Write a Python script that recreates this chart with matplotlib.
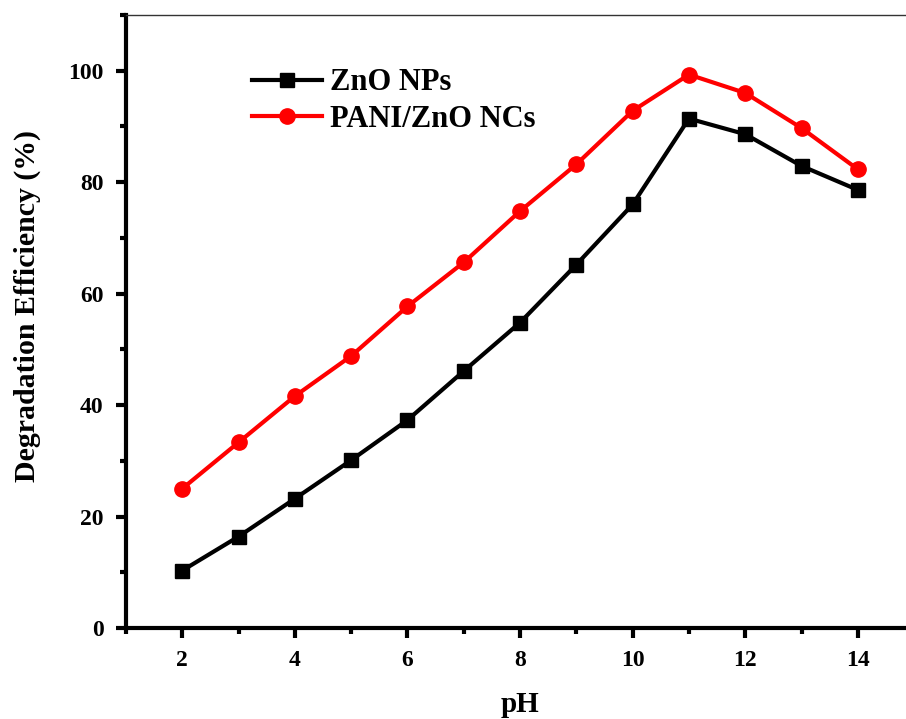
import matplotlib
matplotlib.use("Agg")
import matplotlib.pyplot as plt
from matplotlib.ticker import MultipleLocator

# -------------------------------------------------------------------
# DATA
# -------------------------------------------------------------------
ph_values = [2, 3, 4, 5, 6, 7, 8, 9, 10, 11, 12, 13, 14]
zno_nps = [10.3, 16.4, 23.2, 30.1, 37.3, 46.1, 54.8, 65.2, 76.0, 91.4, 88.6, 82.9, 78.6]
pani_zno_ncs = [25.0, 33.3, 41.6, 48.8, 57.7, 65.6, 74.8, 83.2, 92.8, 99.3, 96.0, 89.7, 82.3]

series_labels = ["ZnO NPs", "PANI/ZnO NCs"]

# -------------------------------------------------------------------
# PLOT
# -------------------------------------------------------------------
plt.rcParams["font.family"] = ["Liberation Serif", "DejaVu Serif"]
plt.rcParams["font.weight"] = "bold"

fig = plt.figure(figsize=(9.06, 7.19), dpi=100)
# right edge of the axes runs past the picture, as in the reference
ax = fig.add_axes([0.139, 0.1266, 0.870, 0.8526])

ax.plot(ph_values, zno_nps, color="black", linewidth=3, marker="s",
        markersize=10, label=series_labels[0])
ax.plot(ph_values, pani_zno_ncs, color="red", linewidth=3, marker="o",
        markersize=11, label=series_labels[1])

ax.set_xlim(1, 15)
ax.set_ylim(0, 110)
ax.xaxis.set_major_locator(MultipleLocator(2))
ax.xaxis.set_minor_locator(MultipleLocator(1))
ax.yaxis.set_major_locator(MultipleLocator(20))
ax.yaxis.set_minor_locator(MultipleLocator(10))

ax.spines["left"].set_linewidth(3)
ax.spines["bottom"].set_linewidth(3)
ax.spines["top"].set_linewidth(1)
ax.spines["top"].set_color("#333333")
ax.spines["right"].set_visible(False)

ax.tick_params(which="major", direction="out", length=7, width=3, labelsize=17, pad=9)
ax.tick_params(which="minor", direction="out", length=4, width=3)
ax.tick_params(top=False, right=False, which="both")
for lbl in ax.get_xticklabels() + ax.get_yticklabels():
    lbl.set_fontweight("bold")

ax.set_xlabel("pH", fontsize=21, fontweight="bold", labelpad=14.5)
ax.set_ylabel("Degradation Efficiency (%)", fontsize=21.5, fontweight="bold", labelpad=20)
ax.yaxis.label.set_y(0.5245)

ax.legend(loc="upper left", bbox_to_anchor=(0.125, 0.958), frameon=False,
          prop={"size": 22, "weight": "bold"}, handlelength=2.3,
          handletextpad=0.25, labelspacing=0.25)

fig.savefig("out.png", dpi=100)
